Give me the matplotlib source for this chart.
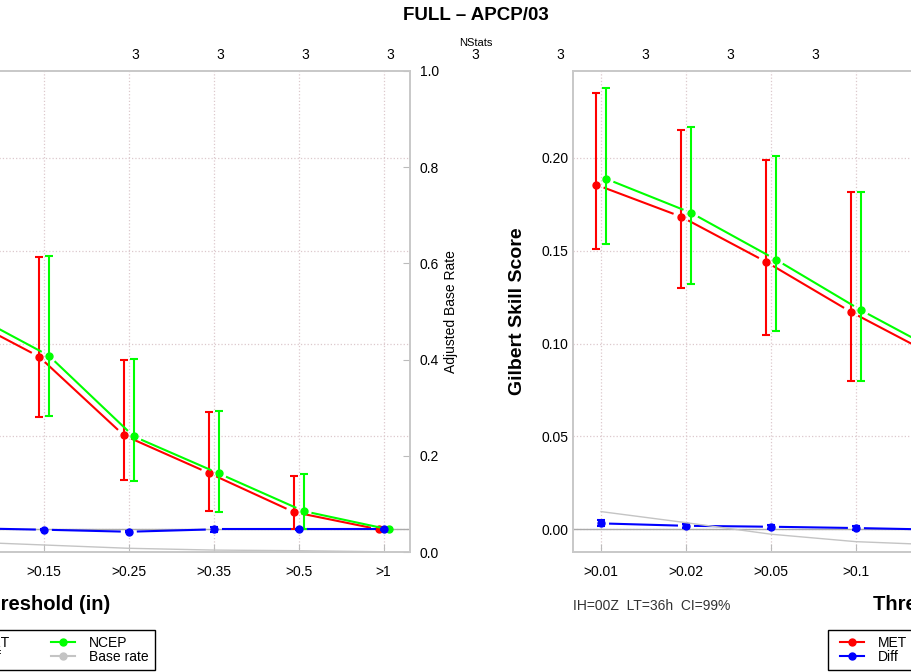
import matplotlib
matplotlib.use('Agg')
import matplotlib.pyplot as plt
from matplotlib.lines import Line2D
from matplotlib.legend_handler import HandlerLine2D
import numpy as np

plt.rcParams['font.family'] = ['Liberation Sans', 'DejaVu Sans']

# Values (Gilbert Skill Score by threshold)
thresholds = ['>0.01', '>0.02', '>0.05', '>0.1', '>0.15', '>0.25', '>0.35', '>0.5', '>1']
nstats = [3, 3, 3, 3, 3, 3, 3, 3, 3]

met = [0.1855, 0.1683, 0.1440, 0.1170, 0.0930, 0.0506, 0.0303, 0.0093, 0.0]
met_lo = [0.1510, 0.1300, 0.1048, 0.0796, 0.0605, 0.0264, 0.0098, 0.0, 0.0]
met_hi = [0.2350, 0.2150, 0.1990, 0.1817, 0.1465, 0.0913, 0.0634, 0.0287, 0.0]

ncep = [0.1887, 0.1704, 0.1452, 0.1180, 0.0935, 0.0500, 0.0301, 0.0098, 0.0]
ncep_lo = [0.1538, 0.1323, 0.1070, 0.0800, 0.0610, 0.0258, 0.0091, 0.0, 0.0]
ncep_hi = [0.2376, 0.2167, 0.2010, 0.1817, 0.1470, 0.0918, 0.0636, 0.0300, 0.0]

diff = [0.0032, 0.0019, 0.0014, 0.0007, -0.0002, -0.0013, 0.0, 0.0, 0.0]
diff_lo = [0.0018, 0.0009, 0.0002, -0.0003, -0.0006, -0.0017, -0.0015, -0.0004, -0.0003]
diff_hi = [0.0050, 0.0029, 0.0026, 0.0017, 0.0002, -0.0009, 0.0015, 0.0004, 0.0003]

base_rate = [0.084, 0.061, 0.037, 0.0215, 0.0146, 0.0077, 0.004, 0.0027, 0.0005]

RED, GREEN, BLUE, GRAY = '#ff0000', '#00ff00', '#0000ff', '#c4c4c4'
SPINE = '#c8c8c8'
GRID = '#dcc8cc'

x = np.arange(len(thresholds))


def gapped(ax, xs, ys, color, gap=8, lw=1.5):
    # R type="b" style: segments stop short of the points
    pts = ax.transData.transform(np.column_stack([xs, ys]))
    inv = ax.transData.inverted()
    for p, q in zip(pts[:-1], pts[1:]):
        d = q - p
        length = np.hypot(*d)
        if length <= 2 * gap:
            continue
        u = d / length
        seg = inv.transform([p + u * gap, q - u * gap])
        ax.plot(seg[:, 0], seg[:, 1], color=color, lw=lw, solid_capstyle='butt')


class EndMarker(HandlerLine2D):
    # line starts a little in from the left, dot sits at the right end
    def get_xdata(self, legend, xdescent, ydescent, width, height, fontsize):
        x0 = -xdescent + 0.2 * width
        x1 = -xdescent + width
        return np.array([x0, x1]), np.array([x1])


fig = plt.figure(figsize=(9.12, 6.72), dpi=100)
W, H = 912, 672
ax_w = 734 / W
ax_b = (H - 552) / H
ax_h = 481 / H

# two copies of the same panel, cropped by the figure edges
panels = [
    (fig.add_axes([-324 / W, ax_b, ax_w, ax_h]), range(4, 9), 1.08, True),
    (fig.add_axes([573 / W, ax_b, ax_w, ax_h]), range(0, 4), -0.48, False),
]

off = 0.058
for ax, own, cnt_off, show_nstats in panels:
    ax.set_xlim(-0.33, 8.31)
    ax.set_ylim(-0.0122, 0.2467)
    ax.set_xticks(x)
    ax.set_xticklabels(thresholds, fontsize=10)
    ax.set_yticks([0, 0.05, 0.10, 0.15, 0.20])
    ax.set_yticklabels(['0.00', '0.05', '0.10', '0.15', '0.20'], fontsize=10)
    ax.tick_params(axis='x', direction='in', length=6, color='#bbbbbb', pad=9)
    ax.tick_params(axis='y', length=0, pad=3)
    ax.grid(True, ls=':', color=GRID, lw=0.9)
    ax.set_axisbelow(True)
    for s in ax.spines.values():
        s.set_color(SPINE)
        s.set_linewidth(1.2)
    ax.axhline(0, color='#aaaaaa', lw=1)

    ax2 = ax.twinx()
    ax2.set_ylim(0, 1)
    ax2.set_yticks([0, 0.2, 0.4, 0.6, 0.8, 1.0])
    ax2.set_yticklabels(['0.0', '0.2', '0.4', '0.6', '0.8', '1.0'], fontsize=10)
    ax2.tick_params(axis='y', direction='in', length=5, color='#bbbbbb', pad=7)
    for s in ax2.spines.values():
        s.set_color(SPINE)
        s.set_linewidth(1.2)
    ax2.set_ylabel('Adjusted Base Rate', fontsize=10)
    ax2.yaxis.set_label_coords(1.046, 0.5)
    ax2.plot(x, base_rate, color=GRAY, lw=1)

    # MET / NCEP / Diff series
    for vals, lo, hi, col, dx in [(met, met_lo, met_hi, RED, -off),
                                  (ncep, ncep_lo, ncep_hi, GREEN, off),
                                  (diff, diff_lo, diff_hi, BLUE, 0.0)]:
        v = np.array(vals)
        xs = x + dx
        gapped(ax, xs, v, col)
        ax.errorbar(xs, v, yerr=[v - np.array(lo), np.array(hi) - v], fmt='none',
                    ecolor=col, elinewidth=1.5, capsize=3, capthick=1.5)
        ax.plot(xs, v, 'o', color=col, ms=5)

    ax.set_xlabel('Threshold (in)', fontsize=14.5, fontweight='bold', va='center')
    ax.xaxis.set_label_coords(0.5, -0.110)
    ax.set_ylabel('Gilbert Skill Score', fontsize=14, fontweight='bold', va='center')
    ax.yaxis.set_label_coords(-0.075, 0.5)
    ax.text(0.0, -0.112, 'IH=00Z  LT=36h  CI=99%', transform=ax.transAxes,
            fontsize=10, color='#333333', va='center', ha='left')

    # NStats counts along the top
    tr = ax.get_xaxis_transform()
    for i in own:
        ax.text(x[i] + cnt_off, 1.033, str(nstats[i]), transform=tr,
                ha='center', va='center', fontsize=10, clip_on=False)
    if show_nstats:
        ax.text(x[-1] + cnt_off, 1.058, 'NStats', transform=tr,
                ha='center', va='center', fontsize=8, clip_on=False)

    handles = [Line2D([], [], color=RED, marker='o', lw=1.5, ms=5),
               Line2D([], [], color=BLUE, marker='o', lw=1.5, ms=5),
               Line2D([], [], color=GREEN, marker='o', lw=1.5, ms=5),
               Line2D([], [], color=GRAY, marker='o', lw=1.5, ms=5)]
    leg = ax.legend(handles, ['MET', 'Diff', 'NCEP', 'Base rate'], ncol=2,
                    loc='upper center', bbox_to_anchor=(0.5, -0.148),
                    fontsize=10, frameon=True, fancybox=False, framealpha=1,
                    edgecolor='black', handlelength=2.16, handletextpad=1.0,
                    columnspacing=2.52, labelspacing=0.0, borderpad=0.43,
                    numpoints=1, handler_map={Line2D: EndMarker()})
    leg.get_frame().set_linewidth(1.0)

fig.text(476 / W, 1 - 15 / H, 'FULL \u2013 APCP/03', ha='center', va='center',
         fontsize=13.5, fontweight='bold')

fig.savefig('out.png', dpi=100)
